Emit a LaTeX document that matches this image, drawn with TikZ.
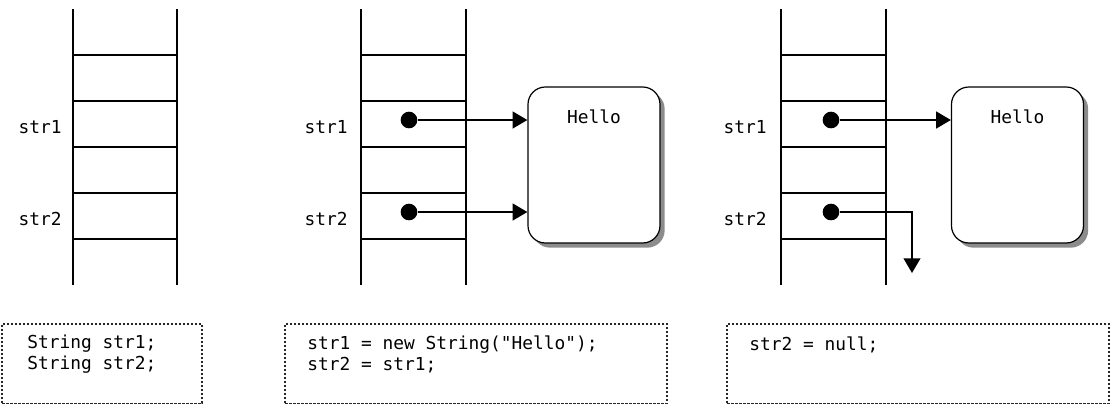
\documentclass[tikz,border=0pt]{standalone}
\usepackage{fontspec}
\setmonofont{DejaVu Sans Mono}
\usetikzlibrary{arrows.meta,shadows}

\begin{document}
\begin{tikzpicture}[
  x=0.75pt,
  y=-0.75pt,
  every node/.style={font=\ttfamily\fontsize{13.4}{15.8}\selectfont, inner sep=0pt},
  stack/.style={line width=1.5pt},
  ref/.style={line width=1.5pt, -{Triangle[length=11pt,width=12.5pt]}},
  refdot/.style={circle, fill, minimum size=12.5pt},
  heap/.style={draw, line width=0.9pt, rounded corners=13pt, fill=white,
    minimum width=99pt, minimum height=117pt,
    drop shadow={shadow xshift=3.5pt, shadow yshift=-3.5pt, fill=black!45, opacity=1}},
  codebox/.style={draw=black!85, line width=0.8pt, dash pattern=on 2pt off 1pt,
    minimum height=59.6pt}
]
  \useasboundingbox (0,0) rectangle (1111,405);

  % ---- panel 1: declaration only --------------------------------------
  \draw[stack] (73,9) -- (73,285) (177,9) -- (177,285);
  \foreach \y in {55,101,147,193,239}
    \draw[stack] (73,\y) -- (177,\y);
  \node[anchor=east] (name1a) at (62,127) {str1};
  \node[anchor=east] (name1b) at (62,219) {str2};

  % ---- panel 2: both refer to the same object -------------------------
  \draw[stack] (361,9) -- (361,285) (466,9) -- (466,285);
  \foreach \y in {55,101,147,193,239}
    \draw[stack] (361,\y) -- (466,\y);
  \node[anchor=east] (name2a) at (348,127) {str1};
  \node[anchor=east] (name2b) at (348,219) {str2};
  \node[heap] (obj2) at (594,165) {};
  \node (hello2) at (594,117) {Hello};
  \node[refdot] (dot2a) at (409,120) {};
  \node[refdot] (dot2b) at (409,212) {};
  \draw[ref] (dot2a) -- (dot2a -| obj2.west);
  \draw[ref] (dot2b) -- (dot2b -| obj2.west);

  % ---- panel 3: str2 set to null --------------------------------------
  \draw[stack] (781,9) -- (781,285) (886,9) -- (886,285);
  \foreach \y in {55,101,147,193,239}
    \draw[stack] (781,\y) -- (886,\y);
  \node[anchor=east] (name3a) at (767,127) {str1};
  \node[anchor=east] (name3b) at (767,219) {str2};
  \node[heap] (obj3) at (1017.5,165) {};
  \node (hello3) at (1017.5,117) {Hello};
  \node[refdot] (dot3a) at (831,120) {};
  \node[refdot] (dot3b) at (831,212) {};
  \coordinate (null3) at (912,273);
  \draw[ref] (dot3a) -- (dot3a -| obj3.west);
  \draw[ref] (dot3b) -| (null3);

  % ---- the code under each panel --------------------------------------
  \node[codebox, minimum width=150pt] (code1) at (102,363.75) {};
  \node[anchor=west, align=left] (text1) at (27,354.5) {String str1;\\String str2;};
  \node[codebox, minimum width=286.5pt] (code2) at (476,363.75) {};
  \node[anchor=west, align=left] (text2) at (307,354.5) {str1 = new String("Hello");\\str2 = str1;};
  \node[codebox, minimum width=286.5pt] (code3) at (918,363.75) {};
  \node[anchor=west] (text3) at (749,345) {str2 = null;};
\end{tikzpicture}
\end{document}
